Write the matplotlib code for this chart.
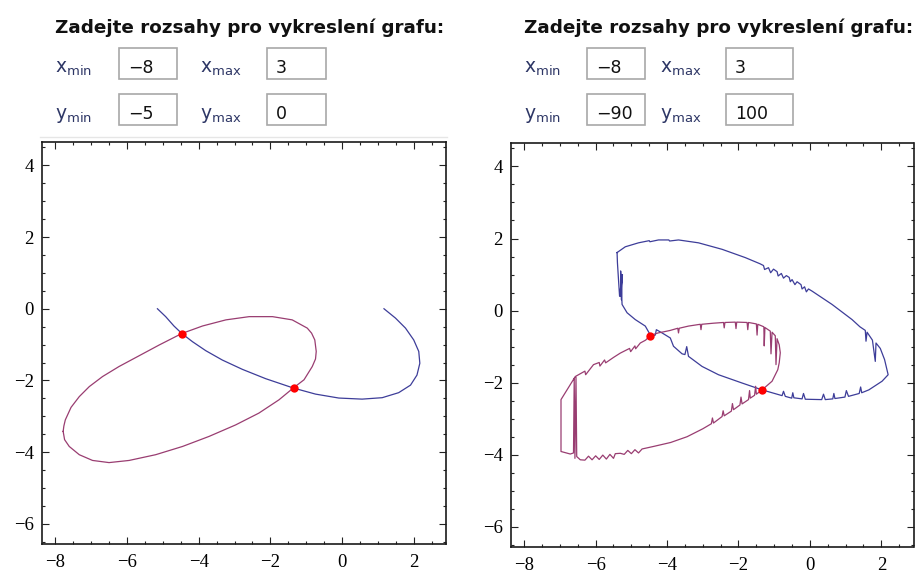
import matplotlib
matplotlib.use("Agg")
import matplotlib.pyplot as plt
from matplotlib.ticker import MultipleLocator
from matplotlib.patches import Rectangle
from matplotlib.lines import Line2D

# input ranges shown above each plot
left_ranges = [-8, 3, -5, 0]
right_ranges = [-8, 3, -90, 100]

# intersection points
sol_x = [-4.47, -1.35]
sol_y = [-0.70, -2.21]

# left plot: smooth curves
ell_x = [-7.78, -7.76, -7.72, -7.56, -7.33, -7.05, -6.68, -6.22, -5.66, -5.10, -4.47, -3.89,
         -3.24, -2.59, -1.94, -1.39, -0.97, -0.85, -0.76, -0.72, -0.74, -0.83, -1.06, -1.36,
         -1.76, -2.32, -2.97, -3.71, -4.45, -5.20, -5.94, -6.50, -6.96, -7.33, -7.61, -7.74,
         -7.78]
ell_y = [-3.42, -3.27, -3.10, -2.75, -2.45, -2.17, -1.89, -1.61, -1.31, -1.01, -0.69, -0.48,
         -0.31, -0.22, -0.22, -0.31, -0.54, -0.68, -0.87, -1.19, -1.40, -1.61, -1.98, -2.21,
         -2.54, -2.91, -3.24, -3.56, -3.84, -4.07, -4.23, -4.29, -4.23, -4.07, -3.84, -3.65,
         -3.42]
arc_x = [-5.15, -4.92, -4.69, -4.47, -4.17, -3.80, -3.34, -2.78, -2.13, -1.36, -0.74, -0.09,
         0.56, 1.12, 1.58, 1.91, 2.09, 2.17, 2.14, 2.00, 1.77, 1.49, 1.17]
arc_y = [0.0, -0.22, -0.48, -0.69, -0.92, -1.17, -1.43, -1.69, -1.95, -2.21, -2.38, -2.49,
         -2.52, -2.48, -2.34, -2.13, -1.85, -1.52, -1.19, -0.87, -0.54, -0.26, 0.0]

# right plot: jagged curves
loop_x = [-5.40, -5.17, -4.80, -4.50, -4.48, -4.24, -3.95, -3.93, -3.68, -3.12, -2.46, -1.81,
          -1.40, -1.30, -1.27, -1.16, -1.10, -1.02, -0.92, -0.89, -0.80, -0.74, -0.66, -0.58,
          -0.55, -0.50, -0.42, -0.36, -0.25, -0.22, -0.15, -0.10, -0.04, 0.06, 0.62, 1.18,
          1.40, 1.55, 1.57, 1.60, 1.75, 1.83, 1.85, 1.97, 2.09, 2.19, 2.02, 1.65, 1.45,
          1.42, 1.38, 1.08, 1.02, 0.98, 0.70, 0.67, 0.64, 0.43, 0.38, 0.33, -0.13, -0.18,
          -0.22, -0.45, -0.48, -0.51, -0.69, -0.74, -0.78, -1.34, -1.90, -2.56, -3.02, -3.40,
          -3.45, -3.50, -3.58, -3.82, -3.91, -4.14, -4.30, -4.33, -4.45, -4.61, -4.89, -5.12,
          -5.26, -5.30, -5.28, -5.25, -5.31, -5.27, -5.33, -5.36, -5.39, -5.40]
loop_y = [1.61, 1.77, 1.88, 1.94, 1.91, 1.96, 1.96, 1.93, 1.96, 1.88, 1.70, 1.47,
          1.30, 1.25, 1.14, 1.19, 1.05, 1.15, 1.08, 0.96, 1.03, 0.90, 0.97, 0.92,
          0.80, 0.86, 0.72, 0.80, 0.72, 0.60, 0.66, 0.52, 0.60, 0.54, 0.17, -0.25,
          -0.45, -0.55, -0.85, -0.60, -0.82, -1.41, -0.90, -1.05, -1.36, -1.78, -1.96, -2.20,
          -2.28, -2.12, -2.30, -2.38, -2.22, -2.40, -2.44, -2.30, -2.45, -2.47, -2.32, -2.47,
          -2.46, -2.30, -2.45, -2.42, -2.28, -2.43, -2.38, -2.24, -2.36, -2.20, -2.01, -1.78,
          -1.55, -1.27, -1.00, -1.22, -1.20, -0.99, -0.76, -0.62, -0.53, -0.68, -0.71, -0.43,
          -0.25, -0.06, 0.17, 1.10, 0.30, 1.00, 0.40, 0.90, 0.40, 0.86, 1.33, 1.61]

oval_x = [-4.47, -4.25, -4.05, -3.91, -3.70, -3.68, -3.66, -3.40, -3.07, -3.05, -3.03, -2.70,
          -2.42, -2.40, -2.38, -2.09, -2.07, -2.05, -1.76, -1.74, -1.72, -1.50, -1.48, -1.46,
          -1.29, -1.28, -1.26, -1.11, -1.09, -1.06, -0.97, -0.95, -0.92, -0.86, -0.83, -0.86,
          -0.90, -1.06, -1.34, -1.50, -1.52, -1.55, -1.67, -1.69, -1.72, -1.90, -1.93, -1.96,
          -2.14, -2.17, -2.20, -2.40, -2.43, -2.46, -2.70, -2.73, -2.76, -3.00, -3.44, -3.90,
          -4.38, -4.70, -4.80, -4.90, -5.00, -5.10, -5.20, -5.31, -5.45, -5.50, -5.60, -5.70,
          -5.80, -5.90, -6.00, -6.10, -6.20, -6.30, -6.43, -6.53, -6.55, -6.58, -6.60, -6.62,
          -6.71, -6.97, -6.97, -6.57, -6.30, -6.28, -6.06, -5.90, -5.88, -5.75, -5.72, -5.50,
          -5.31, -5.05, -5.02, -4.90, -4.88, -4.75, -4.60, -4.47]
oval_y = [-0.69, -0.62, -0.58, -0.55, -0.49, -0.62, -0.49, -0.43, -0.38, -0.53, -0.38, -0.35,
          -0.33, -0.48, -0.33, -0.32, -0.50, -0.32, -0.33, -0.53, -0.33, -0.37, -0.68, -0.38,
          -0.45, -0.98, -0.47, -0.57, -1.20, -0.60, -0.70, -1.50, -0.78, -0.95, -1.17, -1.45,
          -1.64, -1.96, -2.20, -2.32, -2.10, -2.35, -2.43, -2.22, -2.47, -2.59, -2.40, -2.62,
          -2.75, -2.58, -2.79, -2.92, -2.78, -2.94, -3.12, -2.98, -3.14, -3.28, -3.50, -3.66,
          -3.77, -3.84, -3.95, -3.86, -3.97, -3.88, -3.99, -3.96, -3.97, -4.10, -3.99, -4.12,
          -4.01, -4.13, -4.03, -4.14, -4.04, -4.15, -4.14, -4.05, -1.85, -4.10, -1.88, -3.95,
          -3.98, -3.91, -2.47, -1.83, -1.68, -1.78, -1.50, -1.44, -1.54, -1.37, -1.45, -1.30,
          -1.18, -1.05, -1.14, -0.98, -1.06, -0.90, -0.82, -0.69]

W, H = 915, 574
fig = plt.figure(figsize=(W / 100, H / 100), dpi=100)

blue = '#3d3d99'
maroon = '#993d71'
lab_col = '#2e3766'


def px(x):
    return x / W


def py(y):
    return 1 - y / H


def header(x0, cols, ranges):
    fig.text(px(x0), py(33), 'Zadejte rozsahy pro vykreslení grafu:', fontsize=13.2,
             fontweight='bold', family='DejaVu Sans', va='baseline', color='#111111')
    names = [['x', 'min'], ['x', 'max'], ['y', 'min'], ['y', 'max']]
    for i, (nm, val) in enumerate(zip(names, ranges)):
        row = i // 2
        c = cols[i % 2]
        base = 73 + row * 46
        fig.text(px(c[0]), py(base), r'$\mathregular{%s_{%s}}$' % (nm[0], nm[1]),
                 fontsize=13.5, color=lab_col, va='baseline')
        top = 48 + row * 46
        fig.patches.append(Rectangle((px(c[1]), py(top + 31)), (c[2] - c[1]) / W, 31 / H,
                                     transform=fig.transFigure, fill=False,
                                     edgecolor='#a8a8a8', linewidth=1.2))
        fig.text(px(c[1] + 9), py(base), str(val).replace('-', '\u2212'),
                 fontsize=12.5, color='#111111', va='baseline')


header(55, [(55, 119, 177), (200, 267, 326)], left_ranges)
header(524, [(524, 587, 645), (660, 726, 793)], right_ranges)
fig.lines.append(Line2D([px(40), px(447)], [py(137), py(137)], transform=fig.transFigure,
                        color='#e6e6e6', linewidth=1))


def style(ax):
    ax.set_xlim(-8.37, 2.90)
    ax.set_ylim(-6.56, 4.65)
    ax.xaxis.set_major_locator(MultipleLocator(2))
    ax.yaxis.set_major_locator(MultipleLocator(2))
    ax.xaxis.set_minor_locator(MultipleLocator(0.5))
    ax.yaxis.set_minor_locator(MultipleLocator(0.5))
    ax.tick_params(which='both', direction='in', top=True, right=True, width=0.8, color='#222222')
    ax.tick_params(which='major', length=5)
    ax.tick_params(which='minor', length=2.5)
    ax.tick_params(axis='x', pad=7)
    ax.tick_params(axis='y', pad=6)
    for lab in ax.get_xticklabels() + ax.get_yticklabels():
        lab.set_family('Liberation Serif')
        lab.set_fontsize(13.5)
    for s in ax.spines.values():
        s.set_linewidth(1.2)
        s.set_color('#1a1a1a')


ax1 = fig.add_axes([px(42), py(544), 404 / W, 402 / H])
ax1.plot(ell_x, ell_y, color=maroon, lw=0.9, solid_joinstyle='round')
ax1.plot(arc_x, arc_y, color=blue, lw=0.9, solid_joinstyle='round')
ax1.plot(sol_x, sol_y, 'o', color='red', ms=6, mec='none')
style(ax1)

ax2 = fig.add_axes([px(511), py(547), 402.5 / W, 404 / H])
ax2.plot(loop_x, loop_y, color=blue, lw=0.9)
ax2.plot(oval_x, oval_y, color=maroon, lw=0.9)
ax2.plot(sol_x, sol_y, 'o', color='red', ms=6, mec='none')
style(ax2)

fig.savefig('out.png', dpi=100)
